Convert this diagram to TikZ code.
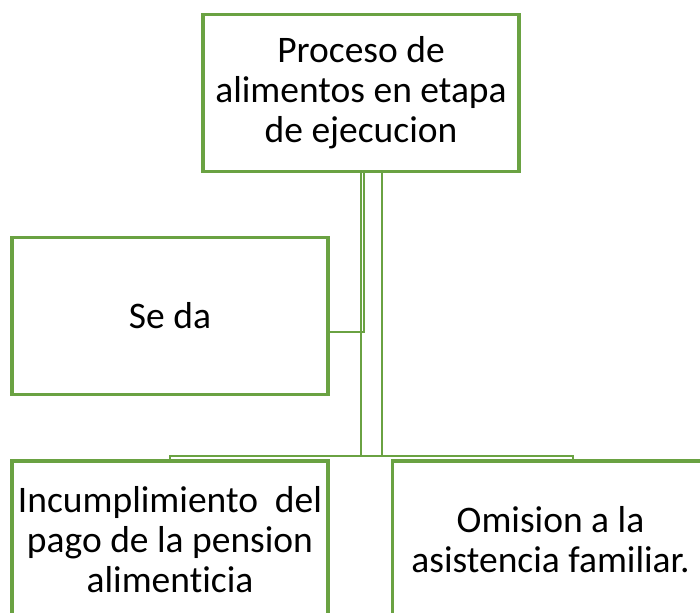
\documentclass[tikz,border=0pt]{standalone}
\usepackage{fontspec}
\setmainfont{Carlito}[Ligatures={NoCommon}]
\definecolor{grn}{RGB}{106,162,66}
\begin{document}
\begin{tikzpicture}[x=1pt,y=-1pt,
  box/.style={draw=grn, line width=3.6pt, fill=white, minimum width=316pt, minimum height=157pt, inner sep=0pt, align=center, font=\fontsize{37.5}{40}\selectfont, text=black},
  conn/.style={draw=grn, line width=2.3pt}]
\useasboundingbox (0,0) rectangle (700,612);
\clip (0,0) rectangle (700,612);
\fill[white] (0,0) rectangle (700,612);
\node[box] (top) at (361,93) {Proceso de\\alimentos en etapa\\de ejecucion};
\node[box] (seda) at (170,316) {Se da};
\node[box] (left) at (170,539.5) {Incumplimiento~~del\\pago de la pension\\alimenticia};
\node[box] (right) at (550.5,539.5) {Omision a la\\asistencia familiar.};
\coordinate (bar) at (0,456);
\coordinate (k) at (364,332);
\coordinate (rt) at (573,456);
\draw[conn] ([xshift=3pt]top.south) -- (k) -- (seda.east |- k);
\draw[conn] (top.south) -- (top.south |- bar);
\draw[conn] ([xshift=21pt]top.south) -- ([xshift=21pt]top.south |- bar);
\draw[conn] (left.north) -- (left.north |- bar) -- (rt) -- (rt |- right.north);
\end{tikzpicture}
\end{document}
